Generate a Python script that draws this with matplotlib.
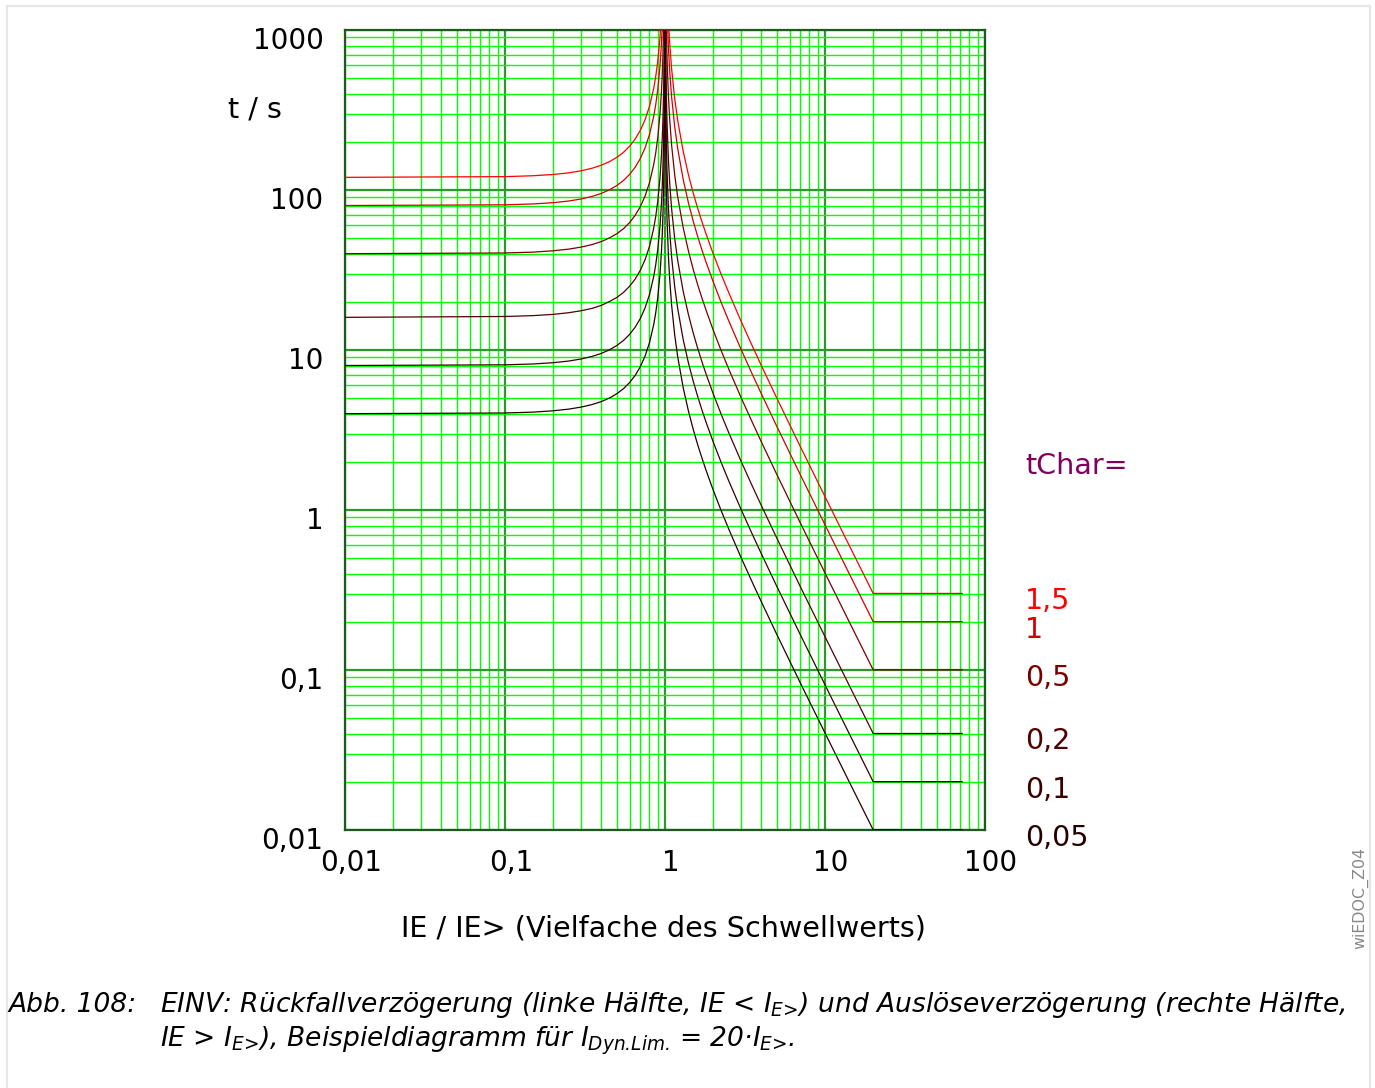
import matplotlib
matplotlib.use('Agg')
import matplotlib.pyplot as plt
from matplotlib.ticker import LogLocator, NullFormatter, FixedLocator
from matplotlib.transforms import ScaledTranslation, blended_transform_factory
from matplotlib.patches import Rectangle

plt.rcParams['font.family'] = ['DejaVu Sans']
plt.rcParams['mathtext.fontset'] = 'custom'
plt.rcParams['mathtext.rm'] = 'DejaVu Sans:italic'
plt.rcParams['mathtext.it'] = 'DejaVu Sans:italic'

# tChar settings (labels on the right) and line colours
tchar_labels = ['1,5', '1', '0,5', '0,2', '0,1', '0,05']
tchar_colors = ['#ff0000', '#d40000', '#7a0000', '#520000', '#3a0000', '#260000']

# reset side (IE < IE>)
reset_x = [0.01, 0.1, 0.15, 0.2, 0.25, 0.3, 0.35, 0.4, 0.45, 0.5, 0.55, 0.6, 0.65,
           0.7, 0.75, 0.8, 0.85, 0.875, 0.9, 0.93, 0.95, 0.96, 0.97, 0.98, 0.99,
           0.995, 0.999]
reset_15 = [120.0, 121.2, 122.8, 125.0, 128.0, 131.9, 136.8, 142.9, 150.5, 160.0,
            172.0, 187.5, 207.8, 235.3, 274.3, 333.3, 432.4, 512.0, 631.6, 888.2,
            1231, 1531, 2030, 3030, 6030, 12030, 60030]
reset_1 = [80.0, 80.8, 81.84, 83.3, 85.33, 87.9, 91.17, 95.2, 100.3, 106.7,
           114.7, 125.0, 138.5, 156.9, 182.9, 222.2, 288.3, 341.3, 421.1, 592.1,
           820.5, 1020, 1354, 2020, 4020, 8020, 40020]
reset_05 = [40.0, 40.4, 40.9, 41.7, 42.7, 44.0, 45.6, 47.6, 50.2, 53.3,
            57.3, 62.5, 69.3, 78.4, 91.4, 111.1, 144.1, 170.7, 210.5, 296.1,
            410.3, 510, 677, 1010, 2010, 4010, 20010]
reset_02 = [16.0, 16.2, 16.4, 16.7, 17.1, 17.6, 18.2, 19.0, 20.1, 21.3,
            22.9, 25.0, 27.7, 31.4, 36.6, 44.4, 57.7, 68.3, 84.2, 118.4,
            164.1, 204, 271, 404, 804, 1604, 8004]
reset_01 = [8.0, 8.08, 8.18, 8.33, 8.53, 8.79, 9.12, 9.52, 10.03, 10.67,
            11.47, 12.5, 13.85, 15.69, 18.29, 22.2, 28.8, 34.1, 42.1, 59.2,
            82.1, 102.0, 135.4, 202, 402, 802, 4002]
reset_005 = [4.0, 4.04, 4.09, 4.17, 4.27, 4.40, 4.56, 4.76, 5.01, 5.33,
             5.73, 6.25, 6.92, 7.84, 9.14, 11.11, 14.41, 17.07, 21.05, 29.6,
             41.0, 51.0, 67.7, 101, 201, 401, 2001]

# trip side (IE > IE>), flat beyond IDyn.Lim = 20
trip_x = [1.001, 1.005, 1.01, 1.02, 1.03, 1.05, 1.07, 1.1, 1.15, 1.2, 1.3, 1.4,
          1.5, 1.6, 1.7, 1.8, 2, 2.25, 2.5, 3, 3.5, 4, 5, 7, 10, 14, 20, 72]
trip_15 = [59970, 11970, 5970, 2970, 1970, 1171, 828, 571, 372, 273, 174, 125.0,
           96.0, 76.9, 63.5, 53.6, 40.0, 29.5, 22.9, 15.0, 10.67, 8.0, 5.0, 2.5,
           1.212, 0.615, 0.301, 0.301]
trip_1 = [39980, 7980, 3980, 1980, 1314, 781, 552, 381, 248, 182, 116, 83.3,
          64.0, 51.3, 42.3, 35.7, 26.7, 19.69, 15.24, 10.0, 7.11, 5.33, 3.33, 1.667,
          0.808, 0.410, 0.2005, 0.2005]
trip_05 = [19990, 3990, 1990, 990, 657, 390, 276, 190.5, 124.0, 90.9, 58.0, 41.7,
           32.0, 25.6, 21.2, 17.9, 13.33, 9.85, 7.62, 5.0, 3.56, 2.667, 1.667, 0.833,
           0.404, 0.205, 0.1003, 0.1003]
trip_02 = [7996, 1596, 796, 396, 263, 156.1, 110.4, 76.2, 49.6, 36.4, 23.2, 16.7,
           12.8, 10.26, 8.47, 7.14, 5.33, 3.94, 3.05, 2.0, 1.422, 1.067, 0.667, 0.333,
           0.1616, 0.0821, 0.0401, 0.0401]
trip_01 = [3998, 798, 398, 198, 131.4, 78.0, 55.2, 38.1, 24.8, 18.2, 11.59, 8.33,
           6.4, 5.13, 4.23, 3.57, 2.667, 1.969, 1.524, 1.0, 0.711, 0.533, 0.333, 0.1667,
           0.0808, 0.0410, 0.02005, 0.02005]
trip_005 = [1999, 399, 199, 99.0, 65.7, 39.0, 27.6, 19.05, 12.4, 9.09, 5.80, 4.17,
            3.2, 2.56, 2.12, 1.786, 1.333, 0.985, 0.762, 0.5, 0.356, 0.267, 0.1667, 0.0833,
            0.0404, 0.0205, 0.01003, 0.01003]

reset_curves = [reset_15, reset_1, reset_05, reset_02, reset_01, reset_005]
trip_curves = [trip_15, trip_1, trip_05, trip_02, trip_01, trip_005]

x_ticks = [0.01, 0.1, 1, 10, 100]
x_ticklabels = ['0,01', '0,1', '1', '10', '100']
y_ticks = [0.01, 0.1, 1, 10, 100, 1000]
y_ticklabels = ['0,01', '0,1', '1', '10', '100', '1000']

W, H = 1375, 1088
fig = plt.figure(figsize=(W / 100, H / 100), dpi=100)
fig.patches.append(Rectangle((7 / W, -0.01), (1370 - 7) / W, 1.01 - 6 / H,
                             transform=fig.transFigure, fill=False,
                             edgecolor='#e6e6e6', lw=1.5))

ax = fig.add_axes([345 / W, (H - 830) / H, 640 / W, 800 / H])
ax.set_xscale('log')
ax.set_yscale('log')
ax.set_xlim(0.01, 100)
ax.set_ylim(0.01, 1000)

for yr, yt, col in zip(reset_curves, trip_curves, tchar_colors):
    ax.plot(reset_x, yr, color=col, lw=0.9, zorder=3)
    ax.plot(trip_x, yt, color=col, lw=0.9, zorder=3)

ax.xaxis.set_major_locator(FixedLocator(x_ticks))
ax.yaxis.set_major_locator(FixedLocator(y_ticks))
ax.xaxis.set_minor_locator(LogLocator(base=10, subs=range(2, 10), numticks=20))
ax.yaxis.set_minor_locator(LogLocator(base=10, subs=range(2, 10), numticks=20))
ax.xaxis.set_minor_formatter(NullFormatter())
ax.yaxis.set_minor_formatter(NullFormatter())
ax.set_xticklabels(x_ticklabels, fontsize=20)
ax.set_yticklabels(y_ticklabels, fontsize=20)
ax.tick_params(which='both', length=0)
ax.tick_params(axis='x', pad=14)
ax.tick_params(axis='y', pad=15.5)
for lbl in ax.get_xticklabels():
    lbl.set_transform(lbl.get_transform() + ScaledTranslation(0.06, 0, fig.dpi_scale_trans))
for lbl in ax.get_yticklabels():
    lbl.set_transform(lbl.get_transform() + ScaledTranslation(0, -0.08, fig.dpi_scale_trans))

ax.grid(which='minor', color='#00ff00', lw=1.0, zorder=1)
ax.grid(which='major', color='#2a9a2a', lw=1.6, zorder=2)
ax.set_axisbelow(True)
for sp in ax.spines.values():
    sp.set_color('#1e5a1e')
    sp.set_linewidth(1.6)

fig.text(255 / W, 1 - 110 / H, 't / s', fontsize=20.6, ha='center', va='center')
fig.text(663 / W, 1 - 928 / H, 'IE / IE> (Vielfache des Schwellwerts)',
         fontsize=20.6, ha='center', va='center')

# tChar labels at the end of each curve
fig.text(1025 / W, 1 - 466 / H, 'tChar=', fontsize=20.6, color='#800060',
         ha='left', va='center')
lab_tr = blended_transform_factory(ax.transAxes, ax.transData) + \
    ScaledTranslation(0, -0.08, fig.dpi_scale_trans)
for yt, lab, col in zip(trip_curves, tchar_labels, tchar_colors):
    ax.text((1025 - 345) / 640, yt[-1], lab, transform=lab_tr, fontsize=20.5,
            color=col, ha='left', va='center', clip_on=False)

fig.text(1360 / W, 1 - 898 / H, 'wiEDOC_Z04', rotation=90, fontsize=11.4,
         color='#888888', ha='center', va='center')

# caption
cap_size = 19.1
fig.text(8 / W, 1 - 1005 / H, 'Abb. 108:', fontsize=cap_size, style='italic',
         ha='left', va='center')
fig.text(160 / W, 1 - 1005 / H,
         r'EINV: Rückfallverzögerung (linke Hälfte, IE < $I_{\text{E>}}$) und '
         'Auslöseverzögerung (rechte Hälfte,',
         fontsize=cap_size, style='italic', ha='left', va='center')
fig.text(160 / W, 1 - 1041 / H,
         r'IE > $I_{\text{E>}}$), Beispieldiagramm für $I_{\text{Dyn.Lim.}}$ = 20·$I_{\text{E>}}$.',
         fontsize=cap_size, style='italic', ha='left', va='center')

fig.savefig('out.png', dpi=100, facecolor='white')
